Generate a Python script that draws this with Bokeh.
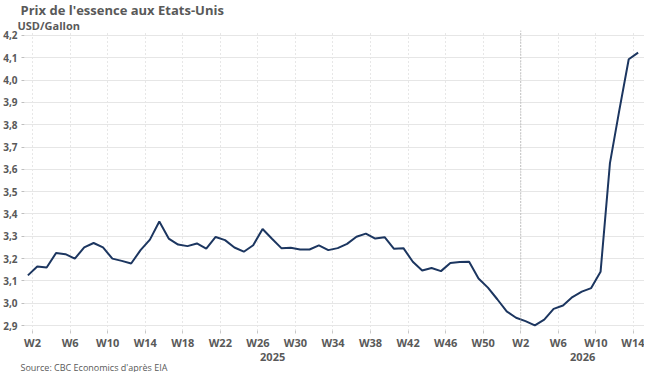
from bokeh.plotting import figure
from bokeh.models import Range1d, FixedTicker, LinearAxis, Title, Span
from bokeh.embed import file_html
from bokeh.resources import INLINE

# Weekly US gasoline price, USD/Gallon (week index 1 = W1 2025 ... 66 = W14 2026)
week_index = list(range(1, 67))
price = [3.125, 3.165, 3.16, 3.225, 3.22, 3.20, 3.25, 3.27, 3.25, 3.20,
         3.19, 3.178, 3.238, 3.285, 3.366, 3.29, 3.263, 3.256, 3.268, 3.245,
         3.297, 3.283, 3.25, 3.231, 3.26, 3.333, 3.289, 3.247, 3.249, 3.241,
         3.241, 3.259, 3.238, 3.247, 3.266, 3.298, 3.312, 3.29, 3.296, 3.244,
         3.247, 3.186, 3.147, 3.158, 3.144, 3.18, 3.185, 3.186, 3.111, 3.07,
         3.018, 2.964, 2.935, 2.92, 2.901, 2.927, 2.975, 2.99, 3.028, 3.052,
         3.068, 3.141, 3.628, 3.865, 4.093, 4.123]

# x tick labels (week index of labelled week, label)
tick_weeks = [2, 6, 10, 14, 18, 22, 26, 30, 34, 38, 42, 46, 50, 54, 58, 62, 66]
tick_labels = ["W2", "W6", "W10", "W14", "W18", "W22", "W26", "W30", "W34",
               "W38", "W42", "W46", "W50", "W2", "W6", "W10", "W14"]
year_labels = ["2025", "2026"]
year_start_week = 54  # W2 2026 separator

y_ticks = [2.9, 3.0, 3.1, 3.2, 3.3, 3.4, 3.5, 3.6, 3.7, 3.8, 3.9, 4.0, 4.1, 4.2]
y_labels = ["2,9", "3,0", "3,1", "3,2", "3,3", "3,4", "3,5", "3,6", "3,7",
            "3,8", "3,9", "4,0", "4,1", "4,2"]

FONT = "Open Sans"
GREY = "#595959"

tick_pos = [w - 0.5 for w in tick_weeks]
x0, x1 = 0.64, 66.68
sep = year_start_week - 0.5

p = figure(width=644, height=372, output_backend="svg", toolbar_location=None,
           x_range=Range1d(x0, x1), y_range=Range1d(2.878, 4.222),
           min_border_left=20, min_border_right=0, min_border_top=0,
           min_border_bottom=0)
p.outline_line_color = None
p.background_fill_color = "white"
p.border_fill_color = "white"

# titles
p.title.text = "Prix de l'essence aux Etats-Unis"
p.title.text_font = FONT
p.title.text_font_size = "13px"
p.title.text_font_style = "bold"
p.title.text_color = GREY
p.title.text_line_height = 1.0
p.title.offset = -4
p.title.standoff = -3
sub = Title(text="USD/Gallon", text_font=FONT, text_font_size="11px",
            text_font_style="bold", text_color=GREY, text_line_height=1.0,
            offset=-7, standoff=-4)
p.add_layout(sub, "above")

# y axis
p.yaxis.ticker = FixedTicker(ticks=y_ticks)
p.yaxis.major_label_overrides = dict(zip(y_ticks, y_labels))
p.yaxis.axis_line_color = None
p.yaxis.major_tick_in = 0
p.yaxis.major_tick_out = 3
p.yaxis.major_tick_line_color = "#bfbfbf"
p.yaxis.minor_tick_line_color = None
p.yaxis.minor_tick_out = 0
p.yaxis.major_label_text_font = FONT
p.yaxis.major_label_text_font_size = "10px"
p.yaxis.major_label_text_font_style = "bold"
p.yaxis.major_label_text_color = GREY
p.yaxis.major_label_standoff = 4

# x axis (weeks)
p.xaxis.ticker = FixedTicker(ticks=tick_pos)
p.xaxis.major_label_overrides = dict(zip(tick_pos, tick_labels))
p.xaxis.axis_line_color = None
p.xaxis.major_tick_in = 0
p.xaxis.major_tick_out = 3
p.xaxis.major_tick_line_color = "#c8c8c8"
p.xaxis.minor_tick_line_color = None
p.xaxis.minor_tick_out = 0
p.xaxis.major_label_text_font = FONT
p.xaxis.major_label_text_font_size = "11px"
p.xaxis.major_label_text_font_style = "bold"
p.xaxis.major_label_text_color = GREY
p.xaxis.major_label_standoff = 1

# year axis
year_pos = [(x0 + sep) / 2, (sep + x1) / 2]
yax = LinearAxis(ticker=FixedTicker(ticks=year_pos),
                 major_label_overrides=dict(zip(year_pos, year_labels)),
                 axis_line_color=None, major_tick_line_color=None,
                 minor_tick_line_color=None, major_tick_in=0, major_tick_out=0,
                 minor_tick_in=0, minor_tick_out=0, major_label_text_font=FONT,
                 major_label_text_font_size="11px",
                 major_label_text_font_style="bold",
                 major_label_text_color=GREY, major_label_standoff=0)
p.add_layout(yax, "below")

src = Title(text="Source: CBC Economics d'après EIA", text_font=FONT,
            text_font_size="9px", text_font_style="normal", text_color=GREY,
            text_line_height=1.0, offset=-4, standoff=-6,
            vertical_align="top")
p.add_layout(src, "below")

# grids
p.ygrid.grid_line_color = "#e6e6e6"
p.ygrid.grid_line_width = 1
p.ygrid.ticker = FixedTicker(ticks=y_ticks)
p.xgrid.grid_line_color = "#cfcfcf"
p.xgrid.grid_line_dash = "1 3"
p.xgrid.ticker = FixedTicker(ticks=tick_pos)

p.add_layout(Span(location=sep, dimension="height", line_color="#9a9a9a",
                  line_dash="1 2", line_width=1))

p.line(week_index, price, line_color="#1c3660", line_width=2)

open("out.html", "w").write(file_html(p, INLINE))
